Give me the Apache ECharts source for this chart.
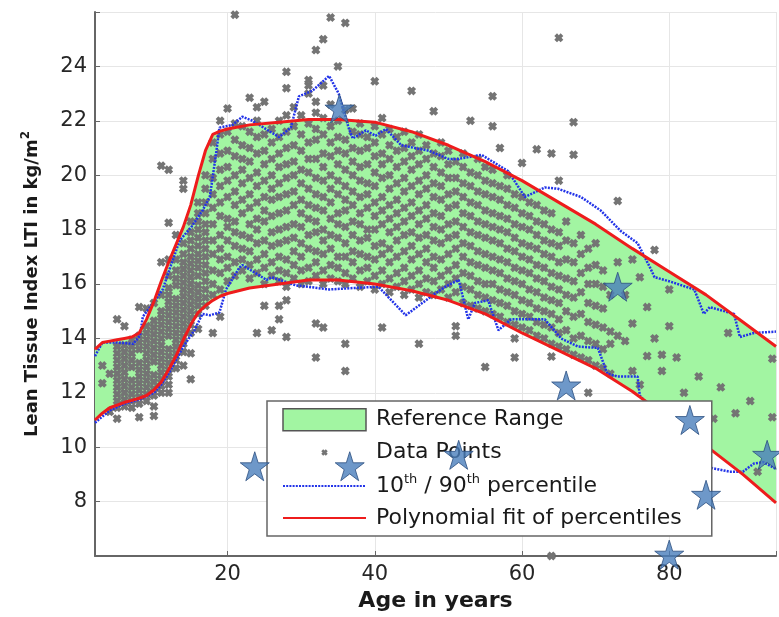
<!DOCTYPE html>
<html>
<head>
<meta charset="utf-8">
<script src="https://cdn.jsdelivr.net/npm/echarts@6/dist/echarts.min.js"></script>
<style>
html, body { margin: 0; padding: 0; background: #fff; }
#chart { width: 779px; height: 617px; }
</style>
</head>
<body>
<div id="chart"></div>
<script>
// polynomial fit of the 10th / 90th percentiles
var fitAges  = [2, 3, 4, 5, 6, 7, 8, 9, 10, 11, 12, 13, 14, 15, 16, 17, 18, 19, 20, 23, 27, 31, 35, 40, 45, 50, 55, 60, 65, 70, 75, 80, 85, 90, 94.5];
var fitUpper = [13.6, 13.85, 13.9, 13.95, 14.0, 14.05, 14.2, 14.7, 15.35, 16.1, 16.8, 17.45, 18.1, 18.9, 19.95, 20.9, 21.5, 21.62, 21.7, 21.85, 21.95, 22.05, 22.05, 21.95, 21.6, 21.1, 20.5, 19.8, 19.0, 18.2, 17.3, 16.45, 15.6, 14.6, 13.7];
var fitLower = [11.0, 11.25, 11.45, 11.55, 11.65, 11.72, 11.8, 11.9, 12.1, 12.4, 12.85, 13.35, 13.95, 14.5, 14.95, 15.2, 15.4, 15.55, 15.65, 15.85, 16.0, 16.15, 16.15, 16.0, 15.75, 15.4, 14.9, 14.2, 13.55, 12.9, 12.05, 11.05, 10.05, 9.0, 7.95];

// raw 90th percentile
var p90Ages = [2, 3, 5, 7.2, 8.1, 8.5, 9.9, 11.2, 12.2, 13.5, 15.1, 16.6, 17.6, 18.5, 18.9, 20.7, 22, 23.4, 27, 28.6, 29.7, 31.5, 33.8, 35.1, 36.5, 37, 38.8, 40.1, 41.5, 43.6, 47.3, 50, 51.4, 54.5, 58.1, 60.4, 63.1, 64.9, 68, 70.7, 73.4, 75.7, 77.4, 78, 80, 83.4, 84.7, 85.5, 88.8, 89.6, 91.5, 94.5];
var p90 = [13.35, 13.85, 13.85, 13.8, 14.1, 14.8, 15.3, 15.8, 16.6, 17.6, 18.1, 18.7, 19.2, 20.9, 21.75, 21.85, 22.15, 22.0, 21.4, 21.75, 22.9, 23.1, 23.65, 23.0, 21.7, 21.35, 21.65, 21.45, 21.7, 21.1, 20.9, 20.6, 20.6, 20.75, 20.15, 19.2, 19.55, 19.5, 19.2, 18.7, 17.95, 17.5, 16.6, 16.25, 16.1, 15.8, 14.9, 15.15, 14.9, 14.05, 14.2, 14.25];

// raw 10th percentile
var p10Ages = [2, 4, 6, 8, 10, 11, 12, 13, 14, 15.5, 16.6, 17.6, 18.9, 19.8, 21.6, 22, 25.3, 26, 29.3, 33.8, 37, 40.5, 44.2, 48.2, 49.6, 51.4, 52.7, 53.6, 55.4, 56.8, 58.5, 63.1, 65.3, 67.6, 70.3, 71.6, 73, 75.7, 76, 78, 80, 82, 84, 85.5, 88.2, 90, 91.5, 92.8, 94.5];
var p10 = [10.9, 11.35, 11.6, 11.75, 12.0, 12.3, 12.7, 13.2, 13.7, 14.3, 14.9, 14.85, 14.95, 15.8, 16.6, 16.7, 16.15, 16.25, 15.95, 15.8, 15.85, 15.9, 14.85, 15.65, 15.9, 16.15, 14.7, 15.3, 15.4, 14.3, 14.7, 14.7, 14.0, 13.7, 13.65, 12.7, 12.6, 12.6, 11.9, 11.3, 10.7, 10.1, 9.6, 9.25, 9.1, 9.1, 9.4, 9.45, 9.2];

// data points: one column of LTI values per age
var scatterAges = [3, 4, 5, 6, 7, 8, 9, 10, 11, 12, 13, 14, 15, 16, 17, 18, 19, 20, 21, 22, 23, 24, 25, 26, 27, 28, 29, 30, 31, 32, 33, 34, 35, 36, 37, 38, 39, 40, 41, 42, 43, 44, 45, 46, 47, 48, 49, 50, 51, 52, 53, 54, 55, 56, 57, 58, 59, 60, 61, 62, 63, 64, 65, 66, 67, 68, 69, 70, 71, 72, 73, 74, 75, 76, 77, 78, 79, 80, 81, 82, 84, 86, 87, 88, 89, 91, 92, 94];
var scatterLTI = [
  [12.35, 13.0],
  [11.3, 12.7],
  [11.05, 11.45, 11.7, 11.95, 12.2, 12.45, 12.7, 12.95, 13.2, 13.45, 13.7, 14.7],
  [11.5, 11.75, 12.0, 12.25, 12.5, 12.75, 13.0, 13.25, 13.5, 13.75, 14.45],
  [11.45, 11.7, 11.95, 12.2, 12.45, 12.95, 13.2, 13.45, 13.7, 13.95],
  [11.1, 11.6, 11.85, 12.1, 12.35, 12.6, 12.85, 13.1, 13.6, 13.85, 14.1, 15.15],
  [11.7, 11.95, 12.2, 12.45, 12.7, 12.95, 13.2, 13.45, 13.7, 13.95, 14.2, 14.45, 15.1],
  [11.15, 11.5, 11.9, 12.15, 12.4, 12.65, 13.15, 13.4, 13.65, 13.9, 14.15, 14.4, 14.65, 15.3],
  [12.0, 12.25, 12.5, 12.75, 13.0, 13.25, 13.5, 13.75, 14.0, 14.25, 14.5, 14.75, 15.0, 15.6, 16.8, 20.35],
  [12.0, 12.3, 12.6, 12.85, 13.1, 13.35, 13.6, 14.1, 14.35, 14.6, 14.85, 15.1, 15.35, 15.6, 15.85, 16.3, 16.9, 18.25, 20.2],
  [12.9, 13.2, 13.45, 13.7, 13.95, 14.2, 14.45, 14.7, 14.95, 15.2, 15.45, 15.95, 16.2, 16.5, 16.9, 17.8],
  [13.0, 13.5, 13.8, 14.05, 14.3, 14.55, 14.8, 15.05, 15.3, 15.55, 15.8, 16.05, 16.3, 16.55, 16.8, 17.1, 17.5, 19.5, 19.8],
  [12.5, 13.45, 14.2, 14.5, 14.75, 15.0, 15.25, 15.5, 15.75, 16.0, 16.25, 16.5, 16.75, 17.0, 17.3, 17.6, 17.9, 18.3],
  [14.35, 14.9, 15.2, 15.45, 15.7, 15.95, 16.3, 16.6, 16.85, 17.1, 17.4, 17.7, 18.0, 18.3, 18.6, 19.0],
  [15.2, 15.5, 15.8, 16.1, 16.4, 16.7, 17.0, 17.3, 17.6, 17.9, 18.2, 18.6, 19.0, 19.5, 20.0],
  [14.2, 15.6, 16.0, 16.5, 17.1, 17.6, 18.2, 18.8, 19.3, 19.9, 20.6, 21.2],
  [14.8, 15.8, 16.4, 16.9, 17.3, 17.8, 18.5, 19.0, 19.6, 20.2, 20.8, 21.5, 22.0],
  [16.1, 16.6, 17.0, 17.6, 18.1, 18.4, 19.2, 19.8, 20.3, 20.9, 21.6, 22.45],
  [16.3, 16.8, 17.4, 17.9, 18.3, 18.9, 19.4, 20.0, 20.7, 21.3, 21.9, 25.9],
  [16.5, 16.9, 17.3, 17.8, 18.6, 19.1, 19.7, 20.2, 20.6, 21.1, 21.8],
  [16.2, 16.7, 17.2, 17.7, 18.2, 18.8, 19.3, 19.9, 20.5, 21.0, 21.6, 22.85],
  [14.2, 16.4, 16.9, 17.5, 18.0, 18.4, 19.0, 19.6, 20.1, 20.8, 21.4, 22.0, 22.5],
  [15.2, 16.0, 16.6, 17.1, 17.6, 18.3, 18.7, 19.2, 19.8, 20.4, 20.9, 21.5, 22.7],
  [14.3, 16.3, 16.8, 17.4, 17.9, 18.5, 19.1, 19.5, 20.0, 20.6, 21.2, 21.7],
  [14.7, 15.2, 16.1, 16.5, 17.0, 17.5, 18.0, 18.6, 19.2, 19.7, 20.3, 20.8, 21.4, 22.0],
  [14.05, 15.4, 15.9, 16.4, 16.9, 17.6, 18.1, 18.7, 19.3, 19.9, 20.4, 21.0, 21.6, 22.2, 23.2, 23.8],
  [16.2, 16.7, 17.2, 17.7, 18.2, 18.9, 19.4, 20.0, 20.5, 21.1, 21.8, 22.5],
  [16.0, 16.5, 17.0, 17.5, 18.1, 18.6, 19.1, 19.7, 20.2, 20.9, 21.5, 22.2],
  [16.1, 16.6, 17.3, 17.8, 18.4, 18.9, 19.5, 20.1, 20.6, 21.2, 21.9, 23.0, 23.3, 23.5],
  [13.3, 14.55, 16.3, 16.8, 17.2, 17.9, 18.3, 18.8, 19.3, 19.9, 20.6, 21.3, 21.7, 22.3, 22.7, 24.6],
  [14.4, 16.0, 16.5, 17.1, 17.6, 18.0, 18.7, 19.2, 19.8, 20.3, 20.8, 21.5, 22.1, 23.3, 25.0],
  [16.2, 16.7, 17.3, 17.8, 18.4, 19.0, 19.5, 20.0, 20.7, 21.2, 21.8, 22.6, 25.8],
  [16.1, 16.6, 17.0, 17.7, 18.2, 18.6, 19.3, 19.8, 20.4, 20.9, 21.4, 22.0, 24.0],
  [12.8, 13.8, 16.0, 16.4, 17.0, 17.5, 18.1, 18.7, 19.1, 19.6, 20.2, 20.8, 21.3, 22.4, 25.6],
  [16.2, 16.8, 17.2, 17.8, 18.3, 18.9, 19.4, 20.0, 20.5, 21.0, 21.6, 22.45],
  [15.9, 16.5, 17.1, 17.6, 18.2, 18.6, 19.2, 19.8, 20.3, 20.9, 21.5, 21.9],
  [16.1, 16.6, 17.0, 17.7, 18.0, 18.8, 19.3, 19.7, 20.4, 21.0, 21.4],
  [15.8, 16.3, 16.9, 17.4, 18.0, 18.5, 19.0, 19.6, 20.1, 20.7, 21.2, 21.8, 23.45],
  [14.4, 16.0, 16.5, 17.1, 17.5, 18.2, 18.7, 19.2, 19.9, 20.4, 20.8, 21.5, 22.1],
  [15.7, 16.2, 16.8, 17.3, 17.9, 18.4, 18.9, 19.5, 20.0, 20.6, 21.1, 21.7],
  [15.9, 16.4, 17.0, 17.6, 18.1, 18.6, 19.1, 19.7, 20.3, 20.9, 21.4],
  [15.6, 16.1, 16.6, 17.2, 17.8, 18.3, 18.8, 19.4, 19.9, 20.5, 21.0, 21.6],
  [15.8, 16.3, 16.9, 17.4, 17.9, 18.5, 19.0, 19.6, 20.2, 20.7, 21.2, 23.1],
  [13.8, 15.5, 16.0, 16.5, 17.1, 17.7, 18.2, 18.7, 19.3, 19.8, 20.4, 20.9, 21.5],
  [15.7, 16.2, 16.8, 17.3, 17.8, 18.4, 18.9, 19.5, 20.0, 20.6, 21.1],
  [15.6, 16.1, 16.6, 17.0, 17.6, 18.1, 18.6, 19.2, 19.7, 20.3, 20.8, 22.35],
  [15.8, 16.3, 16.9, 17.5, 18.0, 18.5, 19.1, 19.6, 20.1, 20.7, 21.2],
  [15.5, 16.0, 16.5, 17.1, 17.7, 18.2, 18.8, 19.3, 19.9, 20.4, 20.9],
  [14.1, 14.45, 15.7, 16.2, 16.7, 17.3, 17.8, 18.3, 18.9, 19.4, 19.9, 20.5],
  [15.3, 15.9, 16.4, 17.0, 17.5, 18.1, 18.6, 19.2, 19.7, 20.3, 20.8],
  [15.2, 15.8, 16.3, 16.8, 17.4, 17.9, 18.5, 19.0, 19.6, 20.1, 22.0],
  [15.1, 15.6, 16.1, 16.7, 17.2, 17.8, 18.3, 18.9, 19.4, 20.0, 20.6],
  [12.95, 15.0, 15.5, 16.0, 16.6, 17.1, 17.7, 18.2, 18.7, 19.3, 19.8, 20.3],
  [14.9, 15.4, 16.0, 16.5, 17.0, 17.6, 18.1, 18.6, 19.2, 19.7, 20.2, 21.8, 22.9],
  [14.8, 15.3, 15.8, 16.4, 16.9, 17.5, 18.0, 18.5, 19.1, 19.6, 21.0],
  [14.6, 15.2, 15.7, 16.2, 16.8, 17.3, 17.9, 18.4, 18.9, 19.5, 20.0],
  [13.3, 14.0, 14.5, 15.0, 15.6, 16.1, 16.6, 17.2, 17.7, 18.2, 18.8, 19.3],
  [14.4, 14.9, 15.4, 16.0, 16.5, 17.0, 17.5, 18.1, 18.6, 19.2, 20.45],
  [14.3, 14.8, 15.3, 15.8, 16.4, 16.9, 17.4, 18.0, 18.5, 19.0],
  [14.1, 14.6, 15.1, 15.7, 16.2, 16.7, 17.3, 17.8, 18.3, 18.9, 20.95],
  [14.0, 14.5, 15.0, 15.5, 16.1, 16.6, 17.1, 17.6, 18.2, 18.7],
  [6.0, 13.33, 13.8, 14.4, 14.9, 15.4, 15.9, 16.4, 17.0, 17.5, 18.0, 18.6, 20.8],
  [13.7, 14.2, 14.7, 15.3, 15.8, 16.3, 16.8, 17.4, 17.9, 19.8, 25.05],
  [13.6, 14.3, 15.0, 15.6, 16.2, 16.9, 17.6, 18.3],
  [13.4, 14.0, 14.8, 15.5, 16.1, 16.8, 17.5, 20.75, 21.95],
  [13.3, 14.1, 14.9, 15.7, 16.4, 17.1, 17.8],
  [12.0, 13.2, 13.9, 14.6, 15.3, 16.0, 16.6, 17.3],
  [13.0, 13.8, 14.5, 15.2, 16.0, 16.7, 17.5],
  [12.9, 13.6, 14.4, 15.1, 15.9, 16.5],
  [12.7, 13.8, 14.25, 15.6],
  [14.1, 16.8, 19.05],
  [13.9, 15.6],
  [12.8, 14.55, 16.9],
  [12.3, 16.25],
  [13.35, 15.15],
  [14.0, 17.25],
  [12.8, 13.4],
  [14.45, 15.8],
  [13.3],
  [12.0],
  [12.6],
  [11.05],
  [12.2],
  [14.2],
  [11.25],
  [11.7],
  [9.1],
  [11.1, 13.25]
];

// patients shown as stars
var starAges = [23.7, 36.6, 35.2, 51.4, 66, 73, 82.8, 85, 80, 93.3];
var starLTI  = [9.3, 9.3, 22.45, 9.72, 12.27, 15.9, 11.0, 8.25, 6.05, 9.72];

var legendNames = ['Reference Range', 'Data Points', '10th / 90th percentile', 'Polynomial fit of percentiles'];

function pairs(xs, ys) {
  var out = [];
  for (var i = 0; i < xs.length; i++) out.push([xs[i], ys[i]]);
  return out;
}
function scatterPairs() {
  var out = [];
  for (var i = 0; i < scatterAges.length; i++) {
    for (var j = 0; j < scatterLTI[i].length; j++) out.push([scatterAges[i], scatterLTI[i][j]]);
  }
  return out;
}

var FONT = 'DejaVu Sans';
// chunky "x" marker, like the blurred matlab crosses
var crossPath = 'path://M0,3L3,0L5,2L7,0L10,3L8,5L10,7L7,10L5,8L3,10L0,7L2,5Z';
var crossLegend = 'path://M-12,-12M22,22M0,3L3,0L5,2L7,0L10,3L8,5L10,7L7,10L5,8L3,10L0,7L2,5Z';
var starPath = 'path://M50,0L61.2,34.5L97.6,34.5L68.2,55.9L79.4,90.5L50,69.1L20.6,90.5L31.8,55.9L2.4,34.5L38.8,34.5Z';

var chart = echarts.init(document.getElementById('chart'));

var option = {
  animation: false,
  backgroundColor: '#fff',
  grid: {left: 95, right: 0, top: 12, bottom: 57},
  xAxis: {
    type: 'value', min: 2, max: 94.5,
    name: 'Age in years', nameLocation: 'middle', nameGap: 34,
    nameTextStyle: {fontFamily: FONT, fontWeight: 'bold', fontSize: 22, color: '#1a1a1a'},
    axisLine: {lineStyle: {color: '#666', width: 2}},
    axisTick: {inside: true, length: 5, lineStyle: {color: '#666'}},
    axisLabel: {
      fontFamily: FONT, fontSize: 21, color: '#262626', margin: 8,
      formatter: function (v) { return v % 20 === 0 ? String(v) : ''; }
    },
    splitLine: {show: true, lineStyle: {color: '#e6e6e6'}}
  },
  yAxis: {
    type: 'value', min: 6, max: 26, interval: 2,
    name: 'Lean Tissue Index LTI in kg/m{sup|2}', nameLocation: 'middle', nameGap: 51,
    nameTextStyle: {
      fontFamily: FONT, fontWeight: 'bold', fontSize: 18, color: '#1a1a1a',
      rich: {sup: {fontFamily: FONT, fontWeight: 'bold', fontSize: 12, color: '#1a1a1a', padding: [0, 0, 12, 0]}}
    },
    axisLine: {show: true, lineStyle: {color: '#666', width: 2}},
    axisTick: {show: true, inside: true, length: 5, lineStyle: {color: '#666'}},
    axisLabel: {
      fontFamily: FONT, fontSize: 21, color: '#262626', margin: 8,
      formatter: function (v) { return (v === 6 || v === 26) ? '' : String(v); }
    },
    splitLine: {show: true, lineStyle: {color: '#e6e6e6'}}
  },
  legend: {
    orient: 'vertical', left: 267, top: 401,
    selectedMode: false,
    backgroundColor: '#fff', borderColor: '#666', borderWidth: 1.5,
    padding: [7, 30, 7, 15],
    itemWidth: 83, itemHeight: 22, itemGap: 10,
    textStyle: {
      fontFamily: FONT, fontSize: 22, color: '#1a1a1a', padding: [0, 0, 0, 5],
      rich: {sup: {fontFamily: FONT, fontSize: 13, color: '#1a1a1a', padding: [0, 0, 12, 0]}}
    },
    formatter: function (name) {
      if (name === legendNames[2]) return '10{sup|th} / 90{sup|th} percentile';
      return name;
    },
    data: [
      {name: legendNames[0], icon: 'rect', itemStyle: {color: '#a2f5a2', borderColor: '#555', borderWidth: 1.5}},
      {name: legendNames[1], icon: crossLegend},
      {name: legendNames[2], itemStyle: {opacity: 0}},
      {name: legendNames[3], itemStyle: {opacity: 0}}
    ]
  },
  series: [
    {
      name: legendNames[0], type: 'custom', silent: true, z: 1,
      itemStyle: {color: '#a2f5a2'},
      data: [[fitAges[0], fitLower[0]]],
      renderItem: function (params, api) {
        var pts = [];
        for (var i = 0; i < fitAges.length; i++) pts.push(api.coord([fitAges[i], fitUpper[i]]));
        for (var j = fitAges.length - 1; j >= 0; j--) pts.push(api.coord([fitAges[j], fitLower[j]]));
        return {type: 'polygon', shape: {points: pts}, style: {fill: '#a2f5a2'}};
      }
    },
    {
      name: legendNames[1], type: 'scatter', silent: true, z: 2,
      symbol: crossPath, symbolSize: 9,
      itemStyle: {color: '#747474', opacity: 1},
      data: scatterPairs()
    },
    {
      name: legendNames[2], type: 'line', silent: true, z: 3, symbol: 'none',
      lineStyle: {color: '#2233e8', width: 2.5, type: [2, 1.2]},
      data: pairs(p90Ages, p90)
    },
    {
      name: legendNames[2], type: 'line', silent: true, z: 3, symbol: 'none',
      lineStyle: {color: '#2233e8', width: 2.5, type: [2, 1.2]},
      data: pairs(p10Ages, p10)
    },
    {
      name: legendNames[3], type: 'line', silent: true, z: 3, symbol: 'none',
      lineStyle: {color: '#ee1c1c', width: 3},
      data: pairs(fitAges, fitUpper)
    },
    {
      name: legendNames[3], type: 'line', silent: true, z: 3, symbol: 'none',
      lineStyle: {color: '#ee1c1c', width: 3},
      data: pairs(fitAges, fitLower)
    },
    {
      name: 'Patients', type: 'scatter', silent: true, z: 10, clip: false,
      symbol: starPath, symbolSize: 29,
      itemStyle: {color: '#4a7ebb', borderColor: '#2c4f80', borderWidth: 1},
      data: pairs(starAges, starLTI)
    }
  ]
};

chart.setOption(option);
</script>
</body>
</html>
